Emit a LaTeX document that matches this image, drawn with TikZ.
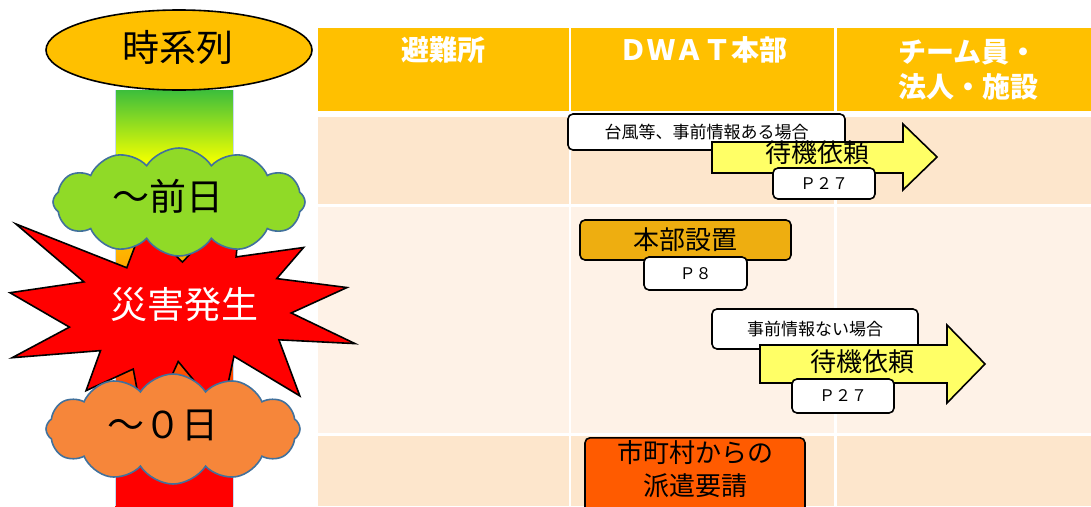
\documentclass[tikz,border=0pt]{standalone}
\usepackage{fontspec}
\newfontfamily\jp{Noto Sans CJK JP}
\usetikzlibrary{shapes.symbols,shapes.geometric}
\definecolor{hdr}{HTML}{FFC000}
\definecolor{rowA}{HTML}{FDE6CC}
\definecolor{rowB}{HTML}{FEF2E7}
\definecolor{arrowyellow}{HTML}{FFFF66}
\definecolor{gold}{HTML}{EEAE10}
\definecolor{redorange}{HTML}{FF5B00}
\definecolor{cloudgreen}{HTML}{90DA27}
\definecolor{cloudorange}{HTML}{F6863A}
\definecolor{cloudline}{HTML}{41719C}
\definecolor{barred}{HTML}{FF0000}
\definecolor{barorr}{HTML}{FF5000}
\definecolor{barorange}{HTML}{FFB000}
\definecolor{baryellow}{HTML}{F0FF00}
\definecolor{bargreen}{HTML}{3CBE3C}
\definecolor{baredge}{HTML}{C5D9F1}
\pgfdeclareverticalshading{timebar}{100bp}{color(0bp)=(barred); color(34bp)=(barred); color(41bp)=(barorr); color(55bp)=(barorange); color(66.5bp)=(baryellow); color(75bp)=(bargreen); color(100bp)=(bargreen)}
\begin{document}
\begin{tikzpicture}[x=1pt,y=-1pt,
  hdrtext/.style={font=\jp\bfseries\fontsize{28}{35}\selectfont, text=white, align=center, inner sep=0pt},
  rbox/.style={draw=black, line width=1.6pt, rounded corners=5pt, fill=white, inner sep=0pt},
  note/.style={font=\jp\fontsize{17}{20}\selectfont},
  pref/.style={font=\jp\fontsize{16}{20}\selectfont},
  big/.style={font=\jp\fontsize{26}{33}\selectfont},
  huge/.style={font=\jp\fontsize{37}{44}\selectfont, inner sep=0pt},
  arrowshape/.style={draw=black, line width=1.6pt, fill=arrowyellow, line join=miter},
  puff/.style={cloud, cloud puffs=12, cloud puff arc=115, draw=cloudline, line width=1.6pt, inner sep=0pt},
]
\path[use as bounding box, clip] (0,0) rectangle (1091,506);
\fill[white] (0,0) rectangle (1091,506);

% ---- table ----
\fill[hdr] (318,28) rectangle (569,111);
\fill[hdr] (571,28) rectangle (834,111);
\fill[hdr] (837,28) rectangle (1091,111);
\fill[rowA] (318,117) rectangle (569,204);
\fill[rowA] (571,117) rectangle (834,204);
\fill[rowA] (837,117) rectangle (1091,204);
\fill[rowB] (318,207) rectangle (569,433);
\fill[rowB] (571,207) rectangle (834,433);
\fill[rowB] (837,207) rectangle (1091,433);
\fill[rowA] (318,436) rectangle (569,506);
\fill[rowA] (571,436) rectangle (834,506);
\fill[rowA] (837,436) rectangle (1091,506);

\node[hdrtext] (h1) at (443,50) {避難所};
\node[hdrtext] (h2) at (703,50) {ＤＷＡＴ本部};
\node[hdrtext] (h3) at (968,70) {チーム員・\\法人・施設};

% ---- time bar ----
\shade[shading=timebar] (115,90) rectangle (233,506);
\draw[baredge, line width=0.8pt] (115,90) -- (115,506) (233,90) -- (233,506);

\node[ellipse, draw=black, line width=1.6pt, fill=hdr, minimum width=266pt, minimum height=80pt, inner sep=0pt] (series) at (179,50) {};
\node[huge] (seriestxt) at (178,47) {時系列};

% ---- explosion ----
\begin{scope}[shift={(10,199)}, x=1.5972pt, y=-1.088pt]
\draw[fill=red, line width=1.6pt, line join=miter]
 (108,58) -- (145.22,0) -- (141.55,53.25) -- (183.80,44.57) -- (167.02,73.15) -- (210.97,81.37) -- (176.07,104.75) -- (216,132.90) -- (168.37,129.42) -- (181.45,180.95) -- (140.20,144.57) -- (132.47,197.37) -- (105.32,149.35) -- (84.85,216) -- (77.15,156.27) -- (47.62,176.17) -- (56.67,139.37) -- (1.35,145.87) -- (37.22,117.75) -- (0,86.15) -- (46.27,76.17) -- (3.70,22.95) -- (73.12,63.20) -- (83.52,22.95) -- cycle;
\end{scope}
\node[huge, text=white] (disaster) at (184,305) {災害発生};

% ---- clouds ----
\node[puff, fill=cloudgreen, minimum width=252pt, minimum height=108pt] (prevday) at (179,202) {};
\node[huge] (prevtxt) at (168,196) {～前日};
\node[puff, fill=cloudorange, minimum width=254pt, minimum height=110pt] (dayzero) at (173,429) {};
\node[huge] (zerotxt) at (163,425) {～０日};

% ---- row 1 ----
\node[rbox, minimum width=277pt, minimum height=36pt, note] (pre1) at (706.5,132) {台風等、事前情報ある場合};
\draw[arrowshape] (712,142) -- (903,142) -- (903,124) -- (937,157) -- (903,190) -- (903,173) -- (712,173) -- cycle;
\node[big, inner sep=0pt] (wait1) at (817,153) {待機依頼};
\node[rbox, minimum width=102pt, minimum height=31pt, pref] (p27a) at (824,183.5) {Ｐ２７};

% ---- row 2 ----
\node[rbox, fill=gold, minimum width=211pt, minimum height=40pt, big] (hq) at (685.5,240) {本部設置};
\node[rbox, minimum width=103pt, minimum height=33pt, pref] (p8) at (695.5,273.5) {Ｐ８};
\node[rbox, minimum width=206pt, minimum height=40pt, note] (pre2) at (815,329) {事前情報ない場合};
\draw[arrowshape] (760,345) -- (947,345) -- (947,325) -- (985,364) -- (947,403) -- (947,383) -- (760,383) -- cycle;
\node[big, inner sep=0pt] (wait2) at (862,362) {待機依頼};
\node[rbox, minimum width=102pt, minimum height=34pt, pref] (p27b) at (843,396) {Ｐ２７};

% ---- row 3 ----
\node[rbox, fill=redorange, minimum width=220pt, big, align=center, anchor=north, inner ysep=3pt] (request) at (695,437) {市町村からの\\派遣要請\\[2pt]};
\end{tikzpicture}
\end{document}
